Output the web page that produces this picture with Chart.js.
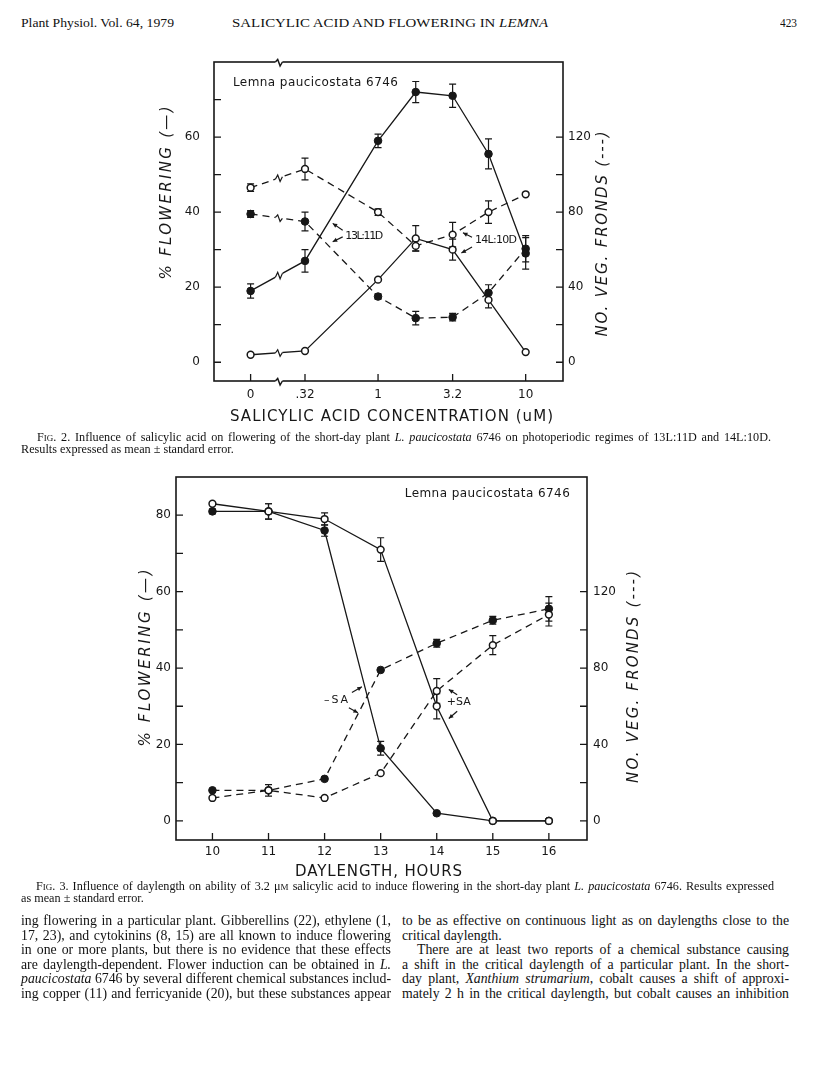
<!DOCTYPE html>
<html>
<head>
<meta charset="utf-8">
<title>Salicylic acid and flowering in Lemna</title>
<script src="https://cdn.jsdelivr.net/npm/chart.js@4.4.1/dist/chart.umd.min.js"></script>
<style>
html, body { margin: 0; padding: 0; background: #fff; }
body { position: relative; width: 816px; height: 1087px; overflow: hidden; color: #111;
       font-family: "Liberation Serif", "Times New Roman", serif; }
.t { position: absolute; white-space: nowrap; line-height: 1; transform-origin: 0 50%; }
.head { font-size: 12.5px; }
.cap { font-size: 12.2px; }
.txt { font-size: 13.8px; }
.sc { font-variant: small-caps; }
canvas { position: absolute; }
#fig2 { left: 140px; top: 40px; }
#fig3 { left: 120px; top: 460px; }
</style>
</head>
<body>

<div class="t head sx" style="left:21px; top:17px" data-w="153">Plant Physiol. Vol. 64, 1979</div>
<div class="t head sx" style="left:232px; top:17px" data-w="316">SALICYLIC ACID AND FLOWERING IN <i>LEMNA</i></div>
<div class="t head sx" style="left:780px; top:17px" data-w="17">423</div>

<canvas id="fig2" width="520" height="400"></canvas>

<div class="t cap" style="left:37px; top:431px" data-w="734"><span class="sc">Fig.</span> 2. Influence of salicylic acid on flowering of the short-day plant <i>L. paucicostata</i> 6746 on photoperiodic regimes of 13L:11D and 14L:10D.</div>
<div class="t cap" style="left:21px; top:443px">Results expressed as mean ± standard error.</div>

<canvas id="fig3" width="540" height="420"></canvas>

<div class="t cap" style="left:36px; top:880px" data-w="738"><span class="sc">Fig.</span> 3. Influence of daylength on ability of 3.2 μ<span class="sc">m</span> salicylic acid to induce flowering in the short-day plant <i>L. paucicostata</i> 6746. Results expressed</div>
<div class="t cap" style="left:21px; top:892px">as mean ± standard error.</div>

<div class="t txt" style="left:21px; top:914px" data-w="370">ing flowering in a particular plant. Gibberellins (22), ethylene (1,</div>
<div class="t txt" style="left:21px; top:928.6px" data-w="370">17, 23), and cytokinins (8, 15) are all known to induce flowering</div>
<div class="t txt" style="left:21px; top:943.2px" data-w="370">in one or more plants, but there is no evidence that these effects</div>
<div class="t txt" style="left:21px; top:957.8px" data-w="370">are daylength-dependent. Flower induction can be obtained in <i>L.</i></div>
<div class="t txt" style="left:21px; top:972.4px" data-w="370"><i>paucicostata</i> 6746 by several different chemical substances includ-</div>
<div class="t txt" style="left:21px; top:987px" data-w="370">ing copper (11) and ferricyanide (20), but these substances appear</div>

<div class="t txt" style="left:402px; top:914px" data-w="387">to be as effective on continuous light as on daylengths close to the</div>
<div class="t txt" style="left:402px; top:928.6px">critical daylength.</div>
<div class="t txt" style="left:417px; top:943.2px" data-w="372">There are at least two reports of a chemical substance causing</div>
<div class="t txt" style="left:402px; top:957.8px" data-w="387">a shift in the critical daylength of a particular plant. In the short-</div>
<div class="t txt" style="left:402px; top:972.4px" data-w="387">day plant, <i>Xanthium strumarium</i>, cobalt causes a shift of approxi-</div>
<div class="t txt" style="left:402px; top:987px" data-w="387">mately 2 h in the critical daylength, but cobalt causes an inhibition</div>

<script>
// ---------- Fig. 2: salicylic acid concentration (uM) ----------
const concValues = [0, 0.32, 1, 1.8, 3.2, 5.6, 10];
const concTickValues = [0, 0.32, 1, 3.2, 10];
const concTickLabels = ['0', '.32', '1', '3.2', '10'];
const ZERO_AT = 0.137;   // where "0" sits on the broken log axis
const BREAK_AT = 0.213;  // axis break between 0 and .32

// % flowering (left axis) and no. of vegetative fronds (right axis)
const flower13 = [19, 27, 59, 72, 71, 55.5, 29];
const flower13Err = [1.9, 3, 1.8, 2.8, 3.1, 4, 4.2];
const flower14 = [2, 3, 22, 33, 30, 16.6, 2.7];
const flower14Err = [0, 0, 0, 3.4, 2.8, 2.1, 0];
const fronds13 = [79, 75, 35, 23.5, 24, 37, 60.5];
const fronds13Err = [1.8, 5, 1.4, 3.6, 2, 4.3, 7];
const fronds14 = [93, 103, 80, 62, 68, 80, 89.5];
const fronds14Err = [2, 5.8, 1.8, 2.7, 6.5, 6, 0];

const leftTicks2 = [0, 10, 20, 30, 40, 50, 60, 70];
const rightTicks2 = [0, 20, 40, 60, 80, 100, 120];

// ---------- Fig. 3: daylength (hours) ----------
const hours = [10, 11, 12, 13, 14, 15, 16];
const flowerMinusSA = [81, 81, 76, 19, 2, 0, 0];
const flowerMinusSAErr = [0.6, 2, 1.5, 1.8, 0, 0, 0];
const flowerPlusSA = [83, 81, 79, 71, 30, 0, 0];
const flowerPlusSAErr = [0, 2, 1.6, 3.1, 3.3, 0, 0];
const frondsMinusSA = [16, 16, 22, 79, 93, 105, 111];
const frondsMinusSAErr = [0, 0, 0, 0, 2, 2, 6.4];
const frondsPlusSA = [12, 16, 12, 25, 68, 92, 108];
const frondsPlusSAErr = [0, 3, 0, 0, 6.5, 5, 6];

const leftTicks3 = [0, 10, 20, 30, 40, 50, 60, 70, 80];
const rightTicks3 = [0, 20, 40, 60, 80, 100, 120];

const ink = '#171717';
const tickFont = { family: 'DejaVu Sans', size: 12 };

const xOf = c => (c === 0 ? ZERO_AT : c);

function series(xs, ys, errs, axis, filled, dashed) {
    return {
        data: xs.map((x, i) => ({ x: x, y: ys[i] })),
        errors: errs,
        yAxisID: axis,
        borderColor: ink,
        borderWidth: 1.3,
        borderDash: dashed ? [7, 5] : [],
        pointRadius: filled ? 3.8 : 3.4,
        pointBackgroundColor: filled ? ink : '#fff',
        pointBorderColor: ink,
        pointBorderWidth: filled ? 1 : 1.5,
        tension: 0,
        fill: false
    };
}

// text squeezed/stretched to the width it has on the page
function fitText(ctx, text, x, y, w, font) {
    ctx.font = font;
    ctx.textAlign = 'left';
    ctx.textBaseline = 'middle';
    const hasLS = 'letterSpacing' in ctx;
    if (hasLS) ctx.letterSpacing = '0px';
    const w0 = ctx.measureText(text).width;
    if (hasLS && text.length > 1) {
        ctx.letterSpacing = ((w - w0) / (text.length - 1)) + 'px';
        ctx.fillText(text, x, y);
        ctx.letterSpacing = '0px';
    } else {
        ctx.save();
        ctx.translate(x, y);
        ctx.scale(w / w0, 1);
        ctx.fillText(text, 0, 0);
        ctx.restore();
    }
}

function arrow(ctx, x1, y1, x2, y2) {
    ctx.beginPath();
    ctx.moveTo(x1, y1);
    ctx.lineTo(x2, y2);
    ctx.stroke();
    const a = Math.atan2(y2 - y1, x2 - x1);
    ctx.beginPath();
    ctx.moveTo(x2, y2);
    ctx.lineTo(x2 - 5 * Math.cos(a - 0.45), y2 - 5 * Math.sin(a - 0.45));
    ctx.lineTo(x2 - 5 * Math.cos(a + 0.45), y2 - 5 * Math.sin(a + 0.45));
    ctx.closePath();
    ctx.fill();
}

function zig(ctx, x, yl, yr, ym) {
    ctx.fillStyle = '#fff';
    ctx.fillRect(x - 3.5, Math.min(yl, yr, ym) - 5, 7, Math.abs(yl - yr) + 10);
    ctx.fillStyle = ink;
    ctx.beginPath();
    ctx.moveTo(x - 3.5, yl);
    ctx.lineTo(x - 1.2, ym - 3);
    ctx.lineTo(x + 1.2, ym + 3.5);
    ctx.lineTo(x + 3.5, yr);
    ctx.stroke();
}

// frame, inward ticks, error bars, breaks, lettering
function paperPlugin(fig) {
    return {
        id: 'paper',
        beforeDatasetsDraw(chart) {
            const { ctx, chartArea: a, scales } = chart;
            ctx.save();
            ctx.strokeStyle = ink;
            ctx.lineWidth = 1.6;
            ctx.strokeRect(a.left, a.top, a.right - a.left, a.bottom - a.top);
            ctx.lineWidth = 1.3;
            ctx.beginPath();
            scales.y.ticks.forEach(t => {
                const p = scales.y.getPixelForValue(t.value);
                ctx.moveTo(a.left, p); ctx.lineTo(a.left + 7, p);
            });
            scales.y2.ticks.forEach(t => {
                const p = scales.y2.getPixelForValue(t.value);
                ctx.moveTo(a.right - 7, p); ctx.lineTo(a.right, p);
            });
            scales.x.ticks.forEach(t => {
                const p = scales.x.getPixelForValue(t.value);
                ctx.moveTo(p, a.bottom); ctx.lineTo(p, a.bottom - 7);
            });
            ctx.stroke();

            ctx.lineWidth = 1.2;
            chart.data.datasets.forEach((ds, di) => {
                const meta = chart.getDatasetMeta(di);
                const ys = scales[ds.yAxisID];
                ds.data.forEach((d, i) => {
                    const e = ds.errors[i];
                    if (!e) return;
                    const x = meta.data[i].x;
                    const y1 = ys.getPixelForValue(d.y + e);
                    const y2 = ys.getPixelForValue(d.y - e);
                    ctx.beginPath();
                    ctx.moveTo(x, y1); ctx.lineTo(x, y2);
                    ctx.moveTo(x - 3.5, y1); ctx.lineTo(x + 3.5, y1);
                    ctx.moveTo(x - 3.5, y2); ctx.lineTo(x + 3.5, y2);
                    ctx.stroke();
                });
            });
            ctx.restore();
        },
        afterDatasetsDraw(chart) {
            const { ctx, chartArea: a, scales } = chart;
            const xs = scales.x;
            ctx.save();
            ctx.strokeStyle = ink;
            ctx.fillStyle = ink;
            ctx.lineWidth = 1.2;

            if (fig.breakAt) {
                const bx = xs.getPixelForValue(fig.breakAt);
                chart.data.datasets.forEach((ds, di) => {
                    const meta = chart.getDatasetMeta(di);
                    const p0 = meta.data[0], p1 = meta.data[1];
                    const yAt = x => p0.y + (x - p0.x) / (p1.x - p0.x) * (p1.y - p0.y);
                    zig(ctx, bx, yAt(bx - 3.5), yAt(bx + 3.5), yAt(bx));
                });
                ctx.lineWidth = 1.5;
                zig(ctx, bx, a.top, a.top, a.top + 0.5);
                zig(ctx, bx, a.bottom, a.bottom, a.bottom + 0.5);
                ctx.lineWidth = 1.2;
            }

            fig.notes.forEach(n => {
                fitText(ctx, n.text, xs.getPixelForValue(n.x), scales.y.getPixelForValue(n.y), n.w, n.font);
            });
            fig.arrows.forEach(r => {
                arrow(ctx, xs.getPixelForValue(r[0]), scales.y.getPixelForValue(r[1]),
                      xs.getPixelForValue(r[2]), scales.y.getPixelForValue(r[3]));
            });

            const cx = (a.left + a.right) / 2;
            const t = fig.xTitle;
            fitText(ctx, t.text, cx + t.dx - t.w / 2, a.bottom + t.dy, t.w, t.font);

            [fig.leftTitle, fig.rightTitle].forEach(v => {
                const x = v.side === 'left' ? a.left + v.dx : a.right + v.dx;
                ctx.save();
                ctx.translate(x, a.top + v.dy);
                ctx.rotate(-Math.PI / 2);
                fitText(ctx, v.text, -v.w / 2, 0, v.w, v.font);
                ctx.restore();
            });
            ctx.restore();
        }
    };
}

function axes(cfg) {
    const hidden = { display: false, drawTicks: false };
    return {
        x: {
            type: cfg.xType, min: cfg.xMin, max: cfg.xMax, bounds: 'data',
            grid: hidden, border: { display: false },
            afterBuildTicks: s => { s.ticks = cfg.xTicks.map(v => ({ value: v })); },
            afterFit: s => { s.height = cfg.xHeight; },
            ticks: { padding: cfg.xPad, autoSkip: false, maxRotation: 0, color: ink, font: tickFont,
                     callback: (v, i) => cfg.xLabels[i] }
        },
        y: {
            position: 'left', min: cfg.yMin, max: cfg.yMax, bounds: 'data',
            grid: hidden, border: { display: false },
            afterBuildTicks: s => { s.ticks = cfg.leftTicks.map(v => ({ value: v })); },
            afterFit: s => { s.width = cfg.leftWidth; },
            ticks: { padding: cfg.leftPad, color: ink, font: tickFont,
                     callback: v => (v % 20 === 0 ? String(v) : '') }
        },
        y2: {
            position: 'right', min: cfg.yMin * 2, max: cfg.yMax * 2, bounds: 'data',
            grid: hidden, border: { display: false },
            afterBuildTicks: s => { s.ticks = cfg.rightTicks.map(v => ({ value: v })); },
            afterFit: s => { s.width = cfg.rightWidth; },
            ticks: { padding: cfg.rightPad, color: ink, font: tickFont,
                     callback: v => (v % 40 === 0 ? String(v) : '') }
        }
    };
}

const letterFont = '12px "DejaVu Sans"';
const smallFont = '11px "DejaVu Sans"';
const titleFont = '15px "DejaVu Sans"';
const obliqueFont = 'italic 15px "DejaVu Sans"';

const fig2Extras = {
    breakAt: BREAK_AT,
    notes: [
        { text: 'Lemna paucicostata 6746', x: 0.104, y: 74.5, w: 165, font: letterFont },
        { text: '13L:11D', x: 0.6, y: 33.6, w: 38, font: smallFont },
        { text: '14L:10D', x: 4.54, y: 32.5, w: 42, font: smallFont }
    ],
    arrows: [
        [0.576, 35.2, 0.493, 37.0],
        [0.576, 33.4, 0.493, 32.1],
        [4.33, 33.3, 3.76, 34.5],
        [4.33, 30.7, 3.67, 29.1]
    ],
    xTitle: { text: 'SALICYLIC ACID CONCENTRATION (uM)', dx: 3, dy: 36, w: 323, font: titleFont },
    leftTitle: { text: '% FLOWERING (—)', side: 'left', dx: -47, dy: 131, w: 173, font: obliqueFont },
    rightTitle: { text: 'NO. VEG. FRONDS (---)', side: 'right', dx: 40, dy: 172, w: 205, font: obliqueFont }
};

const fig3Extras = {
    breakAt: null,
    notes: [
        { text: 'Lemna paucicostata 6746', x: 13.43, y: 85.6, w: 165, font: letterFont },
        { text: '–SA', x: 11.99, y: 31.7, w: 24, font: smallFont },
        { text: '+SA', x: 14.18, y: 31.0, w: 24, font: smallFont }
    ],
    arrows: [
        [12.487, 33.6, 12.665, 35.1],
        [12.433, 29.6, 12.594, 28.3],
        [14.365, 33.0, 14.216, 34.4],
        [14.365, 28.7, 14.216, 26.8]
    ],
    xTitle: { text: 'DAYLENGTH, HOURS', dx: -3, dy: 32, w: 167, font: titleFont },
    leftTitle: { text: '% FLOWERING (—)', side: 'left', dx: -30, dy: 181, w: 177, font: obliqueFont },
    rightTitle: { text: 'NO. VEG. FRONDS (---)', side: 'right', dx: 47, dy: 200, w: 212, font: obliqueFont }
};

const baseOptions = {
    responsive: false,
    animation: false,
    events: [],
    plugins: { legend: { display: false }, tooltip: { enabled: false } }
};

const conc = concValues.map(xOf);

new Chart(document.getElementById('fig2'), {
    type: 'line',
    data: {
        datasets: [
            series(conc, flower13, flower13Err, 'y', true, false),
            series(conc, flower14, flower14Err, 'y', false, false),
            series(conc, fronds13, fronds13Err, 'y2', true, true),
            series(conc, fronds14, fronds14Err, 'y2', false, true)
        ]
    },
    options: Object.assign({}, baseOptions, {
        layout: { padding: { top: 22, left: 0, right: 0, bottom: 0 } },
        scales: axes({
            xType: 'logarithmic', xMin: 0.0774, xMax: 17.9,
            xTicks: concTickValues.map(xOf), xLabels: concTickLabels, xHeight: 59, xPad: 7,
            yMin: -5, yMax: 80, leftTicks: leftTicks2, rightTicks: rightTicks2,
            leftWidth: 74, leftPad: 14, rightWidth: 97, rightPad: 5
        })
    }),
    plugins: [paperPlugin(fig2Extras)]
});

new Chart(document.getElementById('fig3'), {
    type: 'line',
    data: {
        datasets: [
            series(hours, flowerPlusSA, flowerPlusSAErr, 'y', false, false),
            series(hours, flowerMinusSA, flowerMinusSAErr, 'y', true, false),
            series(hours, frondsPlusSA, frondsPlusSAErr, 'y2', false, true),
            series(hours, frondsMinusSA, frondsMinusSAErr, 'y2', true, true)
        ]
    },
    options: Object.assign({}, baseOptions, {
        layout: { padding: { top: 17, left: 0, right: 0, bottom: 0 } },
        scales: axes({
            xType: 'linear', xMin: 9.35, xMax: 16.68,
            xTicks: hours, xLabels: hours.map(String), xHeight: 40, xPad: 5,
            yMin: -5, yMax: 90, leftTicks: leftTicks3, rightTicks: rightTicks3,
            leftWidth: 56, leftPad: 5, rightWidth: 73, rightPad: 6
        })
    }),
    plugins: [paperPlugin(fig3Extras)]
});

// stretch each printed line to its measured width
document.querySelectorAll('.t[data-w]').forEach(el => {
    const target = +el.dataset.w;
    const w = el.getBoundingClientRect().width;
    const spaces = (el.textContent.match(/ /g) || []).length;
    const per = spaces ? (target - w) / spaces : 0;
    if (!el.classList.contains('sx') && spaces && per > -1.5 && per < 8) {
        el.style.wordSpacing = per + 'px';
    } else {
        el.style.transform = 'scaleX(' + (target / w) + ')';
    }
});
</script>
</body>
</html>
